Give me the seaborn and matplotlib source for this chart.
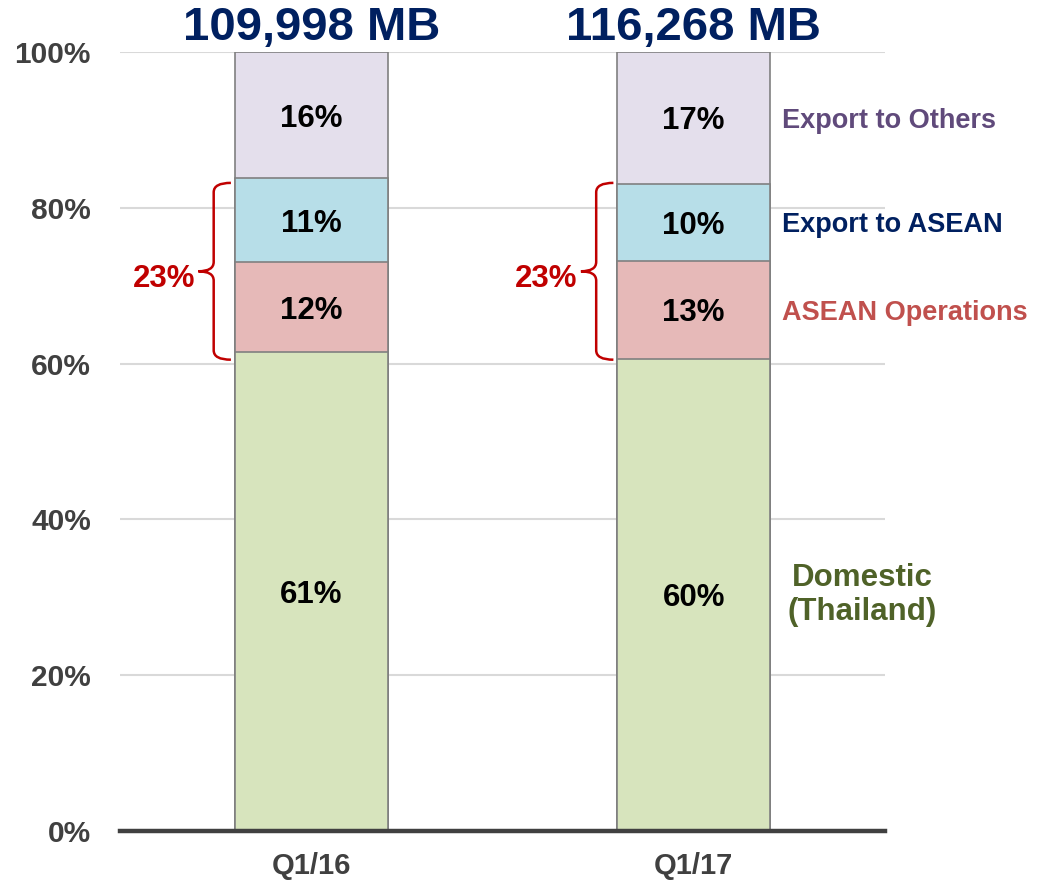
import matplotlib
matplotlib.use("Agg")
import matplotlib.pyplot as plt
import seaborn as sns
import numpy as np
from matplotlib.path import Path
from matplotlib.patches import PathPatch

# --- data ---
quarters = ["Q1/16", "Q1/17"]
totals = ["109,998 MB", "116,268 MB"]
segments = ["Domestic\n(Thailand)", "ASEAN Operations", "Export to ASEAN", "Export to Others"]
domestic = [61.5, 60.6]
asean_ops = [11.5, 12.6]
export_asean = [10.8, 9.9]
export_others = [16.2, 16.9]
domestic_lbl = ["61%", "60%"]
asean_ops_lbl = ["12%", "13%"]
export_asean_lbl = ["11%", "10%"]
export_others_lbl = ["16%", "17%"]
asean_total_lbl = ["23%", "23%"]

fill_colors = ["#D7E4BD", "#E6B9B8", "#B7DEE8", "#E4DFEC"]
text_colors = ["#4F6228", "#C0504D", "#002060", "#604A7B"]

sns.set_style("white")
plt.rcParams["font.family"] = ["Liberation Sans", "DejaVu Sans"]
plt.rcParams["font.weight"] = "bold"

fig = plt.figure(figsize=(10.37, 8.86), dpi=100)
ax = fig.add_axes([0.1157, 0.0621, 0.7377, 0.8792])

values = np.array([domestic, asean_ops, export_asean, export_others])
labels = [domestic_lbl, asean_ops_lbl, export_asean_lbl, export_others_lbl]
cum = np.cumsum(values, axis=0)

# tallest first, shorter stacks drawn on top
for i in range(len(segments) - 1, -1, -1):
    sns.barplot(x=quarters, y=cum[i], color=fill_colors[i], saturation=1,
                width=0.4, edgecolor="#808080", linewidth=1.2, ax=ax, zorder=2)

# value labels inside segments
for i in range(len(segments)):
    for j in range(len(quarters)):
        mid = cum[i][j] - values[i][j] / 2
        ax.text(j, mid, labels[i][j], ha="center", va="center_baseline",
                fontsize=22.5, fontweight="bold", color="black", zorder=5)

# totals on top
for j, t in enumerate(totals):
    ax.text(j, 101.6, t, ha="center", va="baseline", fontsize=34,
            fontweight="bold", color="#002060", clip_on=False)

# segment names right of second bar
last = len(quarters) - 1
for i, name in enumerate(segments):
    mid = cum[i][last] - values[i][last] / 2
    if i == 0:
        ax.text(last + 0.44, mid, name, ha="center", va="center", fontsize=22.5,
                fontweight="bold", color=text_colors[i], linespacing=1.15)
    else:
        ax.text(last + 0.232, mid, name, ha="left", va="center_baseline", fontsize=19.5,
                fontweight="bold", color=text_colors[i], clip_on=False)

# red braces for ASEAN share
for j in range(len(quarters)):
    top, bot = 83.2, 60.5
    tip = (top + bot) / 2
    a, v, t = j - 0.21, j - 0.255, j - 0.295
    r = 1.2
    verts = [(a, top), (v, top), (v, top - r),
             (v, tip + r), (v, tip), (t, tip),
             (v, tip), (v, tip - r),
             (v, bot + r), (v, bot), (a, bot)]
    codes = [Path.MOVETO, Path.CURVE3, Path.CURVE3,
             Path.LINETO, Path.CURVE3, Path.CURVE3,
             Path.CURVE3, Path.CURVE3,
             Path.LINETO, Path.CURVE3, Path.CURVE3]
    ax.add_patch(PathPatch(Path(verts, codes), fill=False, edgecolor="#C00000",
                           linewidth=1.8, zorder=4))
    ax.text(t - 0.008, tip - 0.6, asean_total_lbl[j], ha="right", va="center_baseline",
            fontsize=22.5, fontweight="bold", color="#C00000")

ax.set_xlim(-0.5, 1.5)
ax.set_ylim(0, 100)
ax.set_yticks(np.arange(0, 101, 20))
ax.set_yticklabels([f"{v}%" for v in range(0, 101, 20)])
ax.set_xlabel("")
ax.set_ylabel("")
ax.yaxis.grid(True, color="#D9D9D9", linewidth=1.5, zorder=0)
ax.set_axisbelow(True)
ax.tick_params(axis="y", length=0, pad=21, labelsize=21.5, labelcolor="#404040")
ax.tick_params(axis="x", length=0, pad=15, labelsize=21, labelcolor="#404040")
for lbl in ax.get_xticklabels() + ax.get_yticklabels():
    lbl.set_fontweight("bold")
for s in ["top", "right", "left"]:
    ax.spines[s].set_visible(False)
ax.spines["bottom"].set_color("#404040")
ax.spines["bottom"].set_linewidth(3.2)
ax.spines["bottom"].set_zorder(6)

fig.savefig("out.png", dpi=100)
